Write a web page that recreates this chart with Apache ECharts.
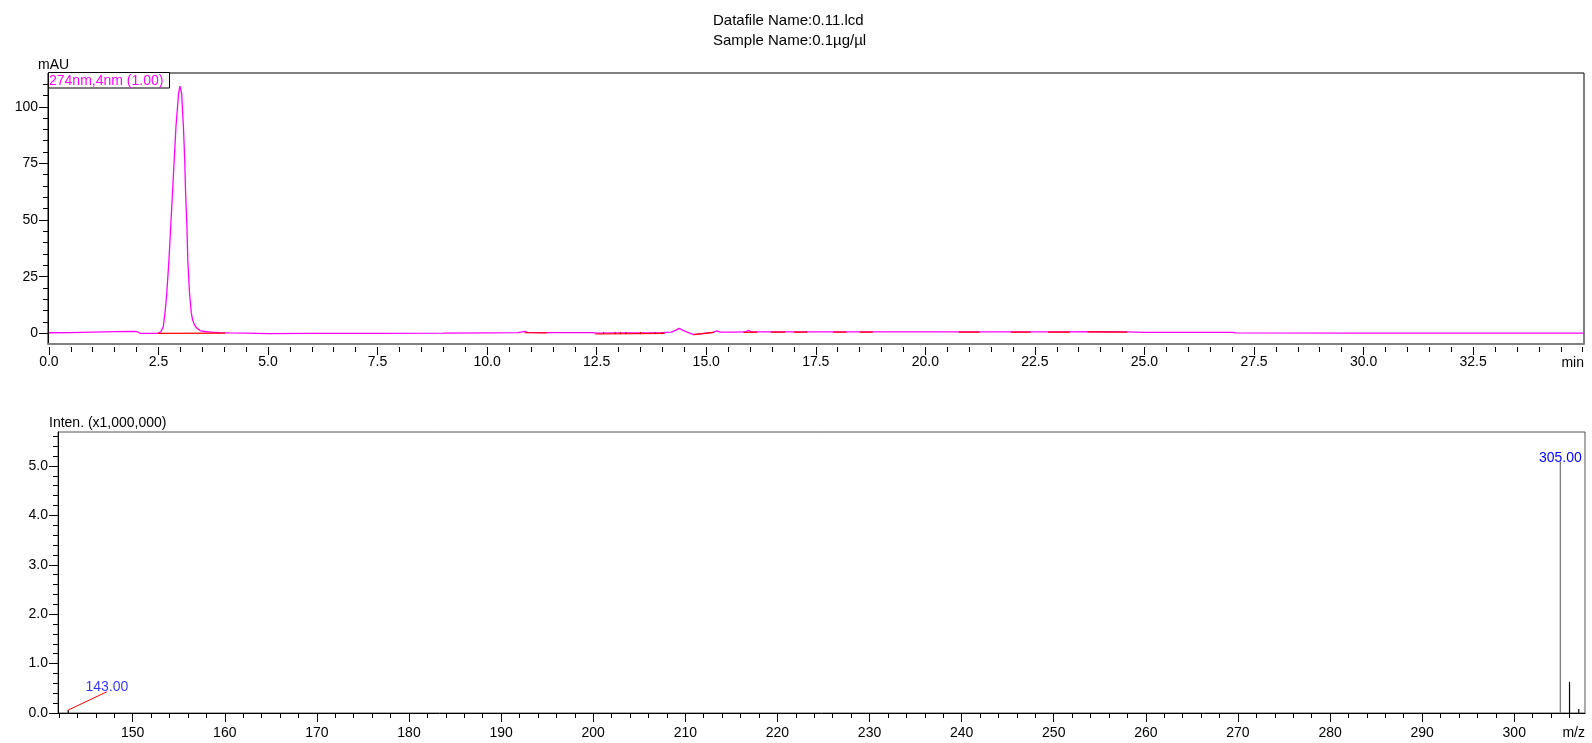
<!DOCTYPE html>
<html>
<head>
<meta charset="utf-8">
<script src="https://cdn.jsdelivr.net/npm/echarts@6/dist/echarts.min.js"></script>
<style>
html, body { margin: 0; padding: 0; background: #fff; }
#chart { width: 1592px; height: 743px; }
</style>
</head>
<body>
<div id="chart"></div>
<script>
// PDA chromatogram 274nm,4nm
var chromTime = [0.00, 0.50, 1.00, 1.50, 1.95, 2.03, 2.08, 2.40, 2.50, 2.56, 2.61, 2.65, 2.69, 2.74, 2.78, 2.82, 2.86, 2.90, 2.96, 2.99,
  3.03, 3.07, 3.10, 3.12, 3.15, 3.17, 3.21, 3.25, 3.28, 3.33, 3.38, 3.45, 3.55, 3.70, 3.90, 4.10, 4.50, 5.00, 6.00, 7.50,
  9.00, 10.00, 10.70, 10.80, 10.86, 10.92, 11.40, 12.00, 12.40, 12.50, 13.00, 13.50, 14.00, 14.20, 14.30, 14.38, 14.46, 14.55, 14.64, 14.71,
  14.80, 15.00, 15.15, 15.24, 15.32, 15.60, 15.90, 15.96, 16.03, 16.50, 17.00, 18.00, 19.00, 20.00, 21.00, 22.00, 23.00, 24.00, 24.60, 25.00,
  26.00, 27.00, 27.10, 30.00, 35.03];
var chromValue = [0.25, 0.3, 0.5, 0.7, 0.85, 0.6, 0.0, 0.0, 0.1, 0.8, 2.9, 9.0, 17.6, 32.3, 47.0, 61.8, 76.5, 91.2, 105.9, 109.1,
  105.9, 91.2, 76.5, 61.8, 47.0, 32.3, 17.6, 9.0, 5.9, 3.5, 2.2, 1.2, 0.8, 0.5, 0.3, 0.2, 0.05, -0.1, -0.05, 0.0,
  0.1, 0.2, 0.3, 0.6, 0.9, 0.4, 0.3, 0.3, 0.3, 0.1, 0.2, 0.2, 0.3, 0.5, 1.3, 2.2, 1.4, 0.6, 0.0, -0.6,
  -0.4, 0.1, 0.4, 1.1, 0.5, 0.5, 0.6, 1.3, 0.6, 0.6, 0.6, 0.6, 0.6, 0.6, 0.6, 0.6, 0.6, 0.7, 0.6, 0.45,
  0.4, 0.4, 0.15, 0.1, 0.1];

// integration baselines: [t start, value, t end, value]
var baselines = [
  [2.48, 0.0, 4.02, 0.1],
  [10.85, 0.25, 11.36, 0.2],
  [12.47, -0.3, 14.05, 0.0],
  [14.71, -0.6, 15.18, 0.4],
  [15.85, 0.45, 16.17, 0.5],
  [16.47, 0.5, 16.80, 0.5],
  [17.00, 0.5, 17.30, 0.5],
  [17.90, 0.5, 18.20, 0.5],
  [18.50, 0.5, 18.80, 0.5],
  [20.76, 0.5, 21.24, 0.5],
  [21.95, 0.5, 22.40, 0.5],
  [22.80, 0.5, 23.30, 0.5],
  [23.70, 0.6, 24.60, 0.5]
];
// small peak start/end marks
var markTime = [12.66, 12.92, 13.04, 13.17, 13.50, 13.84, 13.99];
var markLow = -0.4, markHigh = 0.6;

// mass spectrum
var msMz = [143, 305, 306, 307];
var msInt = [0.06, 5.09, 0.63, 0.08];
var msColor = ['#000000', '#707070', '#000000', '#000000'];
var msLabel = ['', '305.00', '', ''];
var leader143 = [[143, 0.06], [147.2, 0.43]];

// ticks
var topXTicks = [0, 2.5, 5, 7.5, 10, 12.5, 15, 17.5, 20, 22.5, 25, 27.5, 30, 32.5];
var topYTicks = [0, 25, 50, 75, 100];
var msXTicks = [150, 160, 170, 180, 190, 200, 210, 220, 230, 240, 250, 260, 270, 280, 290, 300];
var msYTicks = [0, 1, 2, 3, 4, 5];

function steps(a, b, s) {
  var r = [];
  for (var v = a; v <= b + 1e-9; v += s) r.push(Math.round(v * 100) / 100);
  return r;
}
var topXMinor = steps(0, 35, 0.5);
var topYMinor = steps(0, 110, 5);
var msXMinor = steps(142, 306, 2);
var msYMinor = steps(0, 5.6, 0.2);

var font = "'Liberation Sans', Arial, Helvetica, sans-serif";

function axis(o) {
  return {
    type: 'value',
    gridIndex: o.grid,
    position: o.pos,
    min: o.min,
    max: o.max,
    offset: o.offset || 0,
    axisLine: { show: !!o.line, onZero: false, lineStyle: { color: o.lineColor || '#000', width: o.lineWidth || 1 } },
    axisTick: o.ticks ? { show: true, length: o.len, customValues: o.ticks, lineStyle: { color: '#000', width: 1 } } : { show: false },
    axisLabel: o.labels ? {
      show: true, customValues: o.ticks, formatter: o.fmt, margin: o.margin,
      color: '#000', fontSize: 14, fontFamily: font
    } : { show: false },
    splitLine: { show: false },
    minorTick: { show: false }
  };
}

var topX = { min: -0.02, max: 35.03 };
var topY = { min: -4.72, max: 114.9 };
var msX = { min: 141.89, max: 307.68 };
var msY = { min: 0, max: 5.688 };

var xAxes = [
  axis({ grid: 0, pos: 'bottom', min: topX.min, max: topX.max, line: true, lineColor: '#808080', lineWidth: 2 }),
  axis({ grid: 0, pos: 'bottom', min: topX.min, max: topX.max, offset: 3, ticks: topXTicks, len: 8, labels: true, margin: 8,
    fmt: function (v) { return v.toFixed(1); } }),
  axis({ grid: 0, pos: 'bottom', min: topX.min, max: topX.max, offset: 3, ticks: topXMinor, len: 5 }),
  axis({ grid: 1, pos: 'bottom', min: msX.min, max: msX.max, line: true, ticks: msXTicks, len: 9, labels: true, margin: 13,
    fmt: function (v) { return String(v); } }),
  axis({ grid: 1, pos: 'bottom', min: msX.min, max: msX.max, ticks: msXMinor, len: 5 })
];
var yAxes = [
  axis({ grid: 0, pos: 'left', min: topY.min, max: topY.max, line: true, ticks: topYTicks, len: 9, labels: true, margin: 10,
    fmt: function (v) { return String(v); } }),
  axis({ grid: 0, pos: 'left', min: topY.min, max: topY.max, ticks: topYMinor, len: 5 }),
  axis({ grid: 1, pos: 'left', min: msY.min, max: msY.max, line: true, ticks: msYTicks, len: 9, labels: true, margin: 10,
    fmt: function (v) { return v.toFixed(1); } }),
  axis({ grid: 1, pos: 'left', min: msY.min, max: msY.max, ticks: msYMinor, len: 5 })
];

var series = [];
series.push({
  type: 'line', xAxisIndex: 0, yAxisIndex: 0, showSymbol: false, symbol: 'none',
  data: chromTime.map(function (t, i) { return [t, chromValue[i]]; }),
  lineStyle: { color: '#ff00ff', width: 1.3 }, z: 3
});
baselines.forEach(function (b) {
  series.push({
    type: 'line', xAxisIndex: 0, yAxisIndex: 0, symbol: 'none',
    data: [[b[0], b[1]], [b[2], b[3]]],
    lineStyle: { color: '#ff0000', width: 1.2 }, z: 4
  });
});
markTime.forEach(function (t) {
  series.push({
    type: 'line', xAxisIndex: 0, yAxisIndex: 0, symbol: 'none',
    data: [[t, markLow], [t, markHigh]],
    lineStyle: { color: '#d00000', width: 1 }, z: 4
  });
});
series.push({
  type: 'bar', xAxisIndex: 3, yAxisIndex: 2, barWidth: 1.2,
  data: msMz.map(function (m, i) {
    return {
      value: [m, msInt[i]],
      itemStyle: { color: msColor[i] },
      label: {
        show: msLabel[i] !== '', position: 'top', distance: -4, formatter: msLabel[i],
        color: '#0000ff', fontSize: 14, fontFamily: font
      }
    };
  }),
  z: 3
});
series.push({
  type: 'line', xAxisIndex: 3, yAxisIndex: 2, symbol: 'none',
  data: leader143, lineStyle: { color: '#ff0000', width: 1 }, z: 4
});
series.push({
  type: 'scatter', xAxisIndex: 3, yAxisIndex: 2, symbolSize: 0,
  data: [leader143[1]],
  label: { show: true, position: 'top', distance: -2, formatter: '143.00', color: '#0000ff', fontSize: 14, fontFamily: font },
  z: 5
});

function txt(s, x, y, size, color, align) {
  return {
    type: 'text', z: 100,
    style: {
      text: s, x: x, y: y, fill: color || '#000', font: size + 'px ' + font,
      textAlign: align || 'left', align: align || 'left', textVerticalAlign: 'middle', verticalAlign: 'middle'
    }
  };
}

var option = {
  animation: false,
  backgroundColor: '#fff',
  grid: [
    { left: 48, right: 8, top: 73, height: 271, show: true, borderColor: '#000', borderWidth: 1, backgroundColor: 'transparent' },
    { left: 58, right: 7, top: 432, height: 281, show: true, borderColor: '#555', borderWidth: 1, backgroundColor: 'transparent' }
  ],
  xAxis: xAxes,
  yAxis: yAxes,
  series: series,
  graphic: [
    txt('Datafile Name:0.11.lcd', 713, 21, 15),
    txt('Sample Name:0.1\u00b5g/\u00b5l', 713, 41, 15),
    txt('mAU', 38, 65, 14),
    txt('Inten. (x1,000,000)', 49, 423, 14),
    txt('min', 1584, 363, 14, '#000', 'right'),
    txt('m/z', 1585, 733, 14, '#000', 'right'),
    {
      type: 'rect', z: 99,
      shape: { x: 48.5, y: 72.5, width: 121, height: 15.5 },
      style: { fill: '#fff', stroke: '#000', lineWidth: 1 }
    },
    txt('274nm,4nm (1.00)', 49, 81, 14, '#ff00ff')
  ]
};

var chart = echarts.init(document.getElementById('chart'));
chart.setOption(option);
</script>
</body>
</html>
